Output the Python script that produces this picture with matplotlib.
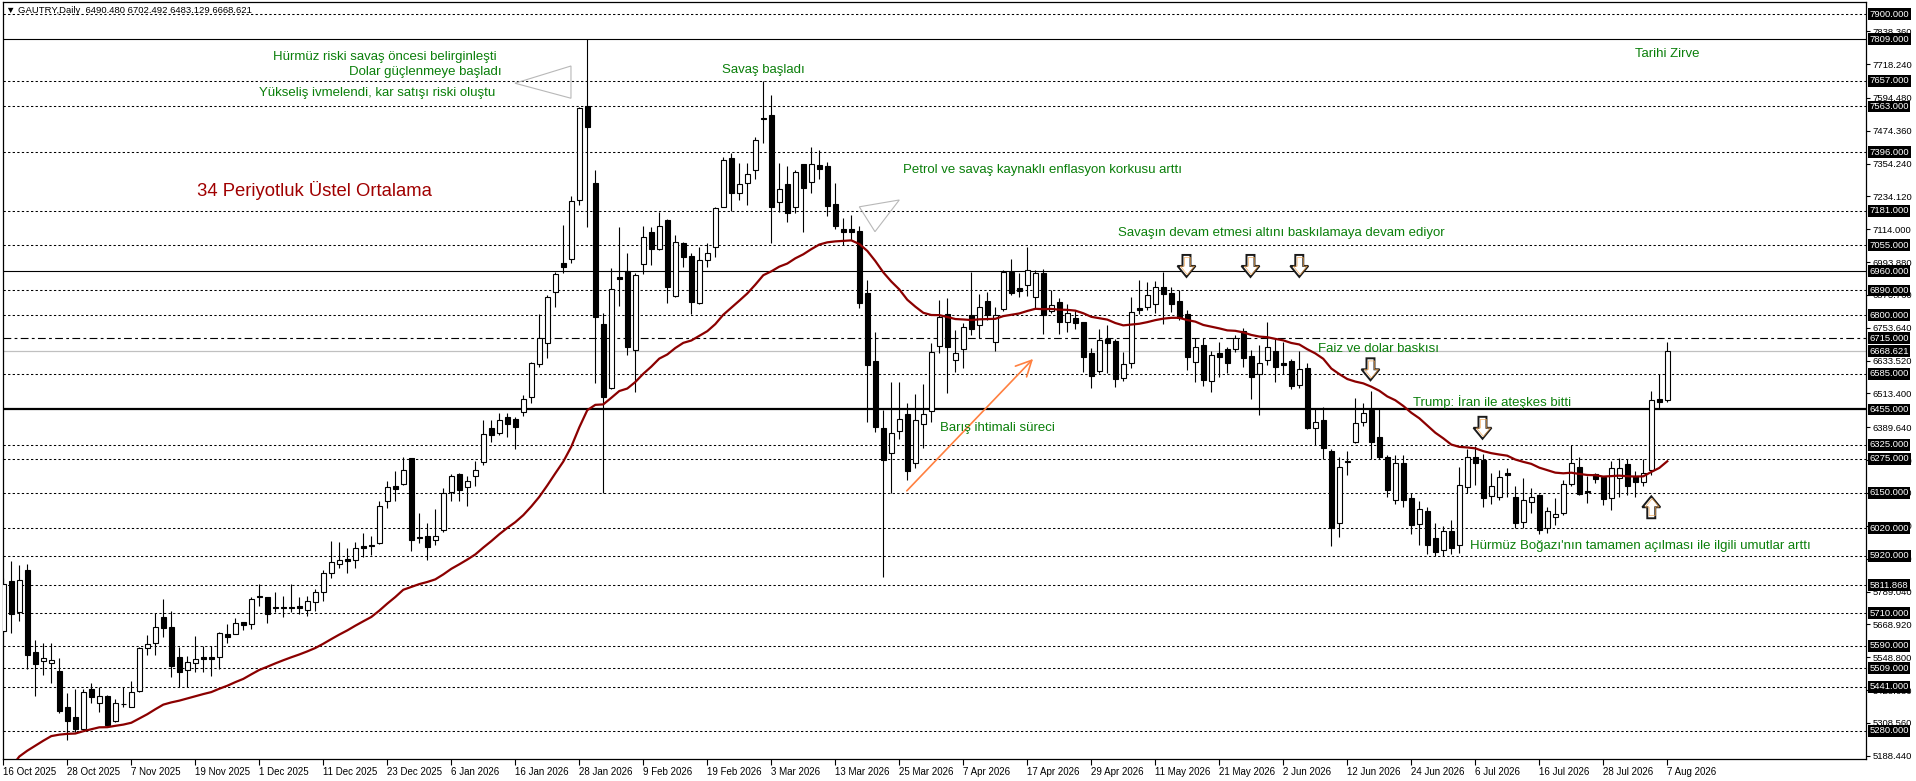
import matplotlib
matplotlib.use('Agg')
import matplotlib.pyplot as plt
from matplotlib.patches import Polygon
from matplotlib.transforms import blended_transform_factory

plt.rcParams['font.family'] = ['Liberation Sans', 'DejaVu Sans']

# GAUTRY gunluk mumlar
symbol = 'GAUTRY,Daily'
opens = [5646, 5827, 5715, 5868, 5568, 5534, 5527, 5500, 5367, 5330,
         5288, 5433, 5380, 5407, 5317, 5377, 5368, 5424, 5583, 5600,
         5695, 5658, 5549, 5501, 5527, 5549, 5549, 5549, 5634, 5633,
         5677, 5669, 5774, 5769, 5734, 5734, 5734, 5736, 5721, 5750,
         5789, 5856, 5889, 5907, 5903, 5955, 5959, 5966, 6119, 6174,
         6182, 6276, 5989, 5993, 5977, 6014, 6154, 6220, 6172, 6212,
         6264, 6386, 6368, 6426, 6419, 6446, 6499, 6620, 6697, 6883,
         6989, 7004, 7221, 7565, 7282, 6767, 6532, 6939, 6962, 6672,
         6987, 7105, 7043, 7148, 6870, 7063, 7016, 6843, 7002, 7048,
         7196, 7373, 7245, 7282, 7331, 7520, 7531, 7215, 7279, 7194,
         7352, 7286, 7348, 7345, 7206, 7114, 7114, 7109, 6880, 6631,
         6386, 6295, 6377, 6438, 6260, 6402, 6450, 6687, 6804, 6636,
         6675, 6799, 6763, 6852, 6701, 6821, 6959, 6898, 6909, 6865,
         6953, 6816, 6849, 6774, 6788, 6774, 6663, 6596, 6712, 6704,
         6569, 6624, 6826, 6829, 6841, 6904, 6880, 6851, 6803, 6630,
         6691, 6560, 6661, 6675, 6675, 6743, 6650, 6585, 6636, 6669,
         6624, 6632, 6544, 6605, 6386, 6416, 6303, 6040, 6262, 6337,
         6410, 6453, 6353, 6280, 6124, 6260, 6130, 6035, 6085, 5985,
         5940, 6010, 5960, 6170, 6280, 6270, 6140, 6136, 6224, 6136,
         6045, 6115, 6142, 6020, 6061, 6075, 6181, 6243, 6158, 6219,
         6207, 6130, 6203, 6256, 6212, 6191, 6235, 6494, 6490.480]
highs = [5839, 5902, 5886, 5890, 5612, 5602, 5602, 5545, 5417, 5432,
         5432, 5456, 5441, 5411, 5395, 5439, 5462, 5585, 5630, 5712,
         5762, 5718, 5585, 5553, 5627, 5590, 5590, 5642, 5670, 5691,
         5679, 5770, 5817, 5770, 5787, 5773, 5817, 5770, 5774, 5798,
         5868, 5975, 5970, 5947, 5970, 6004, 5992, 6120, 6192, 6231,
         6280, 6277, 6077, 6038, 6091, 6168, 6220, 6224, 6210, 6266,
         6416, 6416, 6441, 6441, 6426, 6508, 6630, 6804, 6874, 6959,
         7130, 7236, 7562, 7809, 7331, 6809, 6971, 7121, 7026, 6953,
         7126, 7123, 7178, 7150, 7093, 7068, 7026, 7048, 7063, 7196,
         7379, 7392, 7355, 7355, 7452, 7657, 7605, 7355, 7345, 7331,
         7353, 7416, 7404, 7361, 7282, 7154, 7166, 7127, 6928, 6739,
         6453, 6556, 6556, 6480, 6511, 6548, 6697, 6855, 6861, 6746,
         6770, 6959, 6876, 6883, 6831, 6965, 7004, 6955, 7048, 6965,
         6968, 6892, 6861, 6841, 6819, 6776, 6679, 6749, 6764, 6712,
         6664, 6865, 6928, 6922, 6926, 6959, 6902, 6892, 6819, 6715,
         6715, 6670, 6703, 6684, 6727, 6752, 6672, 6691, 6776, 6712,
         6703, 6638, 6670, 6626, 6456, 6465, 6310, 6282, 6304, 6496,
         6477, 6524, 6461, 6288, 6288, 6288, 6150, 6120, 6100, 6040,
         6030, 6050, 6245, 6309, 6321, 6292, 6221, 6234, 6240, 6175,
         6203, 6167, 6145, 6097, 6130, 6197, 6325, 6282, 6212, 6224,
         6209, 6268, 6276, 6273, 6231, 6273, 6524, 6585, 6702.492]
lows = [5637, 5639, 5681, 5505, 5407, 5485, 5453, 5346, 5246, 5277,
        5285, 5380, 5350, 5299, 5313, 5368, 5366, 5423, 5557, 5557,
        5624, 5478, 5439, 5439, 5496, 5496, 5481, 5505, 5602, 5632,
        5648, 5653, 5737, 5675, 5715, 5695, 5715, 5706, 5701, 5719,
        5756, 5840, 5876, 5858, 5876, 5917, 5923, 5962, 6096, 6121,
        6178, 5937, 5966, 5903, 5959, 6007, 6119, 6119, 6102, 6175,
        6252, 6337, 6362, 6355, 6309, 6431, 6480, 6611, 6642, 6829,
        6953, 6989, 7203, 7123, 6551, 6149, 6529, 6833, 6654, 6520,
        6950, 6983, 7038, 6843, 6867, 6977, 6804, 6841, 6975, 7014,
        7196, 7182, 7221, 7203, 7297, 7430, 7063, 7178, 7142, 7172,
        7105, 7248, 7297, 7162, 7114, 7056, 7075, 6825, 6410, 6374,
        5842, 6150, 6346, 6197, 6240, 6313, 6410, 6660, 6514, 6593,
        6605, 6727, 6716, 6782, 6668, 6816, 6874, 6865, 6870, 6825,
        6731, 6807, 6731, 6737, 6750, 6593, 6532, 6587, 6587, 6536,
        6560, 6605, 6803, 6819, 6807, 6766, 6812, 6782, 6599, 6556,
        6541, 6520, 6575, 6589, 6666, 6611, 6492, 6435, 6618, 6556,
        6585, 6529, 6532, 6382, 6325, 6273, 5955, 5990, 6215, 6331,
        6394, 6273, 6273, 6135, 6110, 6100, 6000, 5960, 5925, 5920,
        5920, 5925, 5930, 6150, 6180, 6100, 6110, 6125, 6136, 6020,
        6020, 6075, 6000, 6002, 6032, 6069, 6175, 6142, 6114, 6185,
        6105, 6087, 6136, 6142, 6136, 6175, 6215, 6456, 6483.129]
closes = [5817, 5707, 5830, 5558, 5525, 5546, 5539, 5353, 5317, 5288,
          5421, 5405, 5406, 5301, 5380, 5376, 5421, 5583, 5597, 5658,
          5655, 5518, 5496, 5530, 5541, 5544, 5541, 5636, 5624, 5675,
          5666, 5761, 5769, 5706, 5728, 5728, 5728, 5728, 5756, 5786,
          5856, 5896, 5903, 5900, 5947, 5947, 5955, 6103, 6170, 6165,
          6234, 5979, 5985, 5952, 5991, 6150, 6210, 6161, 6192, 6234,
          6364, 6362, 6416, 6402, 6390, 6492, 6624, 6717, 6865, 6949,
          6975, 7218, 7556, 7489, 6792, 6502, 6894, 6932, 6682, 6947,
          7085, 7041, 7127, 6904, 7068, 7011, 6849, 7002, 7026, 7193,
          7367, 7248, 7279, 7316, 7440, 7518, 7194, 7260, 7175, 7322,
          7266, 7352, 7335, 7200, 7127, 7103, 7103, 6843, 6616, 6390,
          6270, 6370, 6419, 6231, 6416, 6437, 6666, 6792, 6683, 6660,
          6758, 6748, 6829, 6799, 6802, 6959, 6880, 6888, 6965, 6953,
          6800, 6838, 6774, 6809, 6770, 6648, 6578, 6708, 6697, 6565,
          6620, 6812, 6819, 6872, 6902, 6876, 6840, 6791, 6646, 6682,
          6563, 6654, 6648, 6624, 6716, 6642, 6573, 6624, 6682, 6611,
          6618, 6541, 6602, 6386, 6410, 6313, 6021, 6246, 6268, 6404,
          6441, 6337, 6280, 6160, 6258, 6124, 6032, 6090, 5960, 5935,
          6010, 5950, 6180, 6280, 6260, 6130, 6175, 6209, 6215, 6039,
          6124, 6134, 6014, 6084, 6072, 6181, 6260, 6145, 6152, 6200,
          6128, 6240, 6240, 6175, 6191, 6224, 6490, 6483, 6668.621]

date_labels = ['16 Oct 2025', '28 Oct 2025', '7 Nov 2025', '19 Nov 2025', '1 Dec 2025',
               '11 Dec 2025', '23 Dec 2025', '6 Jan 2026', '16 Jan 2026', '28 Jan 2026',
               '9 Feb 2026', '19 Feb 2026', '3 Mar 2026', '13 Mar 2026', '25 Mar 2026',
               '7 Apr 2026', '17 Apr 2026', '29 Apr 2026', '11 May 2026', '21 May 2026',
               '2 Jun 2026', '12 Jun 2026', '24 Jun 2026', '6 Jul 2026', '16 Jul 2026',
               '28 Jul 2026', '7 Aug 2026']
label_step = 8

price_ticks = [7838.360, 7718.240, 7594.480, 7474.360, 7354.240, 7234.120, 7114.000,
               6993.880, 6873.760, 6753.640, 6633.520, 6513.400, 6389.640, 6269.520,
               6149.400, 6029.280, 5909.160, 5789.040, 5668.920, 5548.800, 5428.680,
               5308.560, 5188.440]

# yatay seviyeler
dashed_levels = [7900, 7657, 7563, 7396, 7181, 7055, 6890, 6800, 6585, 6325, 6275,
                 6150, 6020, 5920, 5811.868, 5710, 5590, 5509, 5441, 5280]
solid_levels = [7809, 6960]
thick_level = 6455
dashdot_level = 6715

ema_period = 34
ema_seed = 5070  # ilk gorunen mumdan onceki EMA degeri

n = len(closes)
idx = list(range(n))

alpha = 2.0 / (ema_period + 1)
ema = []
prev = ema_seed
for c in closes:
    prev = prev + alpha * (c - prev)
    ema.append(prev)

W, H = 1916, 781
fig = plt.figure(figsize=(W / 100, H / 100), dpi=100)
ax_l, ax_r, ax_t, ax_b = 2.5, 1866, 2, 759
ax = fig.add_axes([ax_l / W, (H - ax_b) / H, (ax_r - ax_l) / W, (ax_b - ax_t) / H])
x0, x1 = -0.1, 232.84
y0, y1 = 5176.6, 7945.0
ax.set_xlim(x0, x1)
ax.set_ylim(y0, y1)
ppb = (ax_r - ax_l) / (x1 - x0)      # piksel / mum
ppp = (y1 - y0) / (ax_b - ax_t)      # fiyat / piksel

# seviye cizgileri
for lv in dashed_levels:
    ax.axhline(lv, color='black', lw=0.75, ls=(0, (2.2, 2.2)), zorder=1)
for lv in solid_levels:
    ax.axhline(lv, color='black', lw=0.8, zorder=1)
ax.axhline(thick_level, color='black', lw=1.6, zorder=1)
ax.axhline(dashdot_level, color='black', lw=0.8, ls=(0, (7, 3, 2.5, 3)), zorder=1)
ax.axhline(closes[-1], color='#c0c0c0', lw=0.9, zorder=1)

# mumlar
ax.vlines(idx, lows, highs, color='black', lw=0.8, zorder=3)
bottoms = [min(o, c) for o, c in zip(opens, closes)]
heights = [max(abs(c - o), 1.0) for o, c in zip(opens, closes)]
faces = ['white' if c >= o else 'black' for o, c in zip(opens, closes)]
ax.bar(idx, heights, bottom=bottoms, width=0.6, color=faces, edgecolor='black',
       linewidth=0.8, zorder=4)

# 34 periyot ustel ortalama
ax.plot(idx, ema, color='#8b0000', lw=1.6, zorder=5)

# eksenler
ax.yaxis.tick_right()
ax.set_yticks(price_ticks)
ax.set_yticklabels(['%.3f' % v for v in price_ticks])
ax.tick_params(axis='y', direction='out', length=3, width=0.8, pad=2, labelsize=6.8)
ax.set_xticks([k * label_step for k in range(len(date_labels))])
ax.set_xticklabels(date_labels)
for lbl in ax.get_xticklabels():
    lbl.set_ha('left')
ax.tick_params(axis='x', direction='out', length=4, width=0.8, pad=2, labelsize=7)
for s in ax.spines.values():
    s.set_linewidth(0.9)
    s.set_color('black')

# sag eksende seviye etiketleri
trans = blended_transform_factory(ax.transAxes, ax.transData)
box_levels = dashed_levels + solid_levels + [thick_level, dashdot_level, closes[-1]]
for lv in box_levels:
    ax.text(1.0 + 3.5 / (ax_r - ax_l), lv, '%.3f' % lv, transform=trans, fontsize=6.8,
            color='white', ha='left', va='center', clip_on=False, zorder=10,
            bbox=dict(facecolor='black', edgecolor='none', pad=1.0))

ax.text(0.3, 7913, '\u25bc %s  %.3f %.3f %.3f %.3f' % (symbol, opens[-1], highs[-1], lows[-1], closes[-1]),
        fontsize=6.8, color='black', ha='left', va='center', zorder=7)

# notlar
green = '#0a7f0a'
notes = [
    (33.7, 7744, 'Hürmüz riski savaş öncesi belirginleşti'),
    (43.2, 7690, 'Dolar güçlenmeye başladı'),
    (32.0, 7611, 'Yükseliş ivmelendi, kar satışı riski oluştu'),
    (89.8, 7696, 'Savaş başladı'),
    (204.0, 7755, 'Tarihi Zirve'),
    (112.5, 7331, 'Petrol ve savaş kaynaklı enflasyon korkusu arttı'),
    (139.4, 7099, 'Savaşın devam etmesi altını baskılamaya devam ediyor'),
    (164.3, 6676, 'Faiz ve dolar baskısı'),
    (176.2, 6481, 'Trump: İran ile ateşkes bitti'),
    (117.1, 6386, 'Barış ihtimali süreci'),
]
for xn, yn, t in notes:
    ax.text(xn, yn, t, color=green, fontsize=9.5, ha='left', va='center', zorder=7)
ax.text(225.9, 5957, "Hürmüz Boğazı'nın tamamen açılması ile ilgili umutlar arttı",
        color=green, fontsize=9.5, ha='right', va='center', zorder=7)
ax.text(24.2, 7254, '34 Periyotluk Üstel Ortalama', color='#a00000', fontsize=13.3,
        ha='left', va='center', zorder=7)

# gri ucgenler
ax.add_patch(Polygon([(63.96, 7648), (70.96, 7711), (70.96, 7593)], closed=True,
                     fill=False, edgecolor='#b8b8b8', lw=0.8, zorder=6))
ax.add_patch(Polygon([(107.0, 7196), (112.0, 7221), (108.96, 7105)], closed=True,
                     fill=False, edgecolor='#b8b8b8', lw=0.8, zorder=6))

# turuncu ok
ax.annotate('', xy=(128.96, 6647), xytext=(112.7, 6150),
            arrowprops=dict(arrowstyle='->', color='#ff8040', lw=1.2, mutation_scale=28),
            zorder=6)


def block_arrow(xc, y_start, down=True):
    shape = [(-4, 0), (4, 0), (4, 11), (9, 11), (0, 22), (-9, 11), (-4, 11)]
    sgn = -1 if down else 1
    outer = [(xc + dx / ppb, y_start + sgn * dy * ppp) for dx, dy in shape]
    ax.add_patch(Polygon(outer, closed=True, facecolor='white', edgecolor='#1a1a1a',
                         lw=1.4, zorder=8))
    cx, cy = 0, 12
    inner = [(xc + (cx + (dx - cx) * 0.78) / ppb + 0.12, y_start + sgn * (cy + (dy - cy) * 0.78) * ppp)
             for dx, dy in shape]
    ax.add_patch(Polygon(inner, closed=True, fill=False, edgecolor='#f2a550',
                         lw=0.45, zorder=8))


for xa in (147.9, 155.9, 162.0):
    block_arrow(xa, 7020)
block_arrow(170.9, 6642)
block_arrow(184.9, 6428)
block_arrow(206.0, 6057, down=False)

fig.savefig('out.png', dpi=100)
